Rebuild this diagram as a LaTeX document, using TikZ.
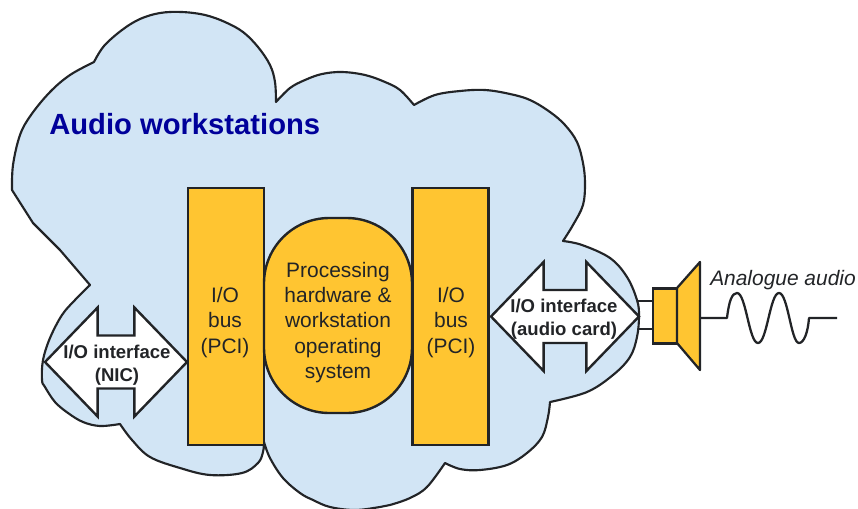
\documentclass[tikz,border=0pt]{standalone}
\usepackage{fontspec}
\setmainfont{Liberation Sans}
\usetikzlibrary{shapes.arrows}
\definecolor{cloudblue}{HTML}{D2E5F5}
\definecolor{boxorange}{HTML}{FFC531}
\definecolor{titleblue}{HTML}{00009A}
\definecolor{inkgray}{HTML}{222427}

\begin{document}
\begin{tikzpicture}[x=0.75pt, y=-0.75pt]
    \tikzstyle{cloud}=[draw=inkgray, fill=cloudblue, line width=1.6pt, line join=round]
    \tikzstyle{wire}=[draw=inkgray, line width=1.7pt, line join=round]
    \tikzstyle{busbox}=[rectangle, draw=inkgray, fill=boxorange, line width=1.8pt, minimum width=57pt, minimum height=192.75pt, inner sep=0pt]
    \tikzstyle{corebox}=[rectangle, draw=inkgray, fill=boxorange, line width=1.8pt, rounded corners=49pt, minimum width=111pt, minimum height=146.25pt, inner sep=0pt]
    \tikzstyle{ioarrow}=[double arrow, draw=inkgray, fill=white, line width=1.8pt, line join=miter, double arrow tip angle=92, double arrow head extend=21pt, minimum width=81pt, inner xsep=0pt, inner ysep=19pt]
    \tikzstyle{boxtext}=[align=center, text=inkgray, font=\fontsize{15.7pt}{19pt}\selectfont]
    \tikzstyle{iotext}=[align=center, text=inkgray, font=\fontsize{13.9pt}{17.3pt}\selectfont\bfseries]

    \useasboundingbox (0,0) rectangle (858,508);

    \draw[cloud] plot[smooth, tension=0.6] coordinates {(12,190) (13,165) (20,135) (31,115) (50,92) (70,75) (94,62)}
        -- plot[smooth, tension=0.6] coordinates {(94,62) (104,46) (122,30) (140,19) (160,13) (182,12) (205,15) (225,22) (243,32) (258,47) (270,65) (275,82) (276,102)}
        -- plot[smooth, tension=0.6] coordinates {(276,102) (290,88) (305,80) (322,74) (342,72) (365,75) (385,82) (400,90) (414,105)}
        -- plot[smooth, tension=0.6] coordinates {(414,105) (435,95) (460,91) (485,90) (510,94) (530,100) (550,112) (565,125) (577,142) (583,163) (585,183) (583,205) (573,225) (563,241)}
        -- plot[smooth, tension=0.6] coordinates {(563,241) (582,245) (610,258) (627,277) (637,300) (639,316) (637,337) (630,357) (613,375) (587,392) (550,402)}
        -- plot[smooth, tension=0.6] coordinates {(550,402) (548,417) (542,437) (527,453) (507,465) (480,470) (460,469) (445,463)}
        -- plot[smooth, tension=0.6] coordinates {(445,463) (427,487) (410,498) (390,505) (380,507) (355,510) (330,507) (313,500) (300,493) (283,478) (270,458) (264,442)}
        -- plot[smooth, tension=0.6] coordinates {(264,442) (263,452) (258,463) (242,473) (210,475) (180,468) (150,457) (132,440) (120,424)}
        -- plot[smooth, tension=0.6] coordinates {(120,424) (100,426) (83,422) (68,413) (55,402) (45,387) (42,380) (43,360) (50,338) (62,315) (75,300) (90,285)}
        -- (60,250) -- (33,223) -- cycle;

    \node[anchor=base west, inner sep=0pt, text=titleblue, font=\fontsize{21.9pt}{26pt}\selectfont\bfseries] (title) at (49,134) {Audio workstations};

    \node[busbox] (busl) at (226,316.5) {};
    \node[busbox] (busr) at (450.5,316.5) {};
    \node[corebox] (core) at (338,315.5) {};
    \node[boxtext] (busltext) at (225,322.5) {I/O\\bus\\(PCI)};
    \node[boxtext] (busrtext) at (451,322.5) {I/O\\bus\\(PCI)};
    \node[boxtext] (coretext) at (338,322.5) {Processing\\hardware \&\\workstation\\operating\\system};

    \node[ioarrow, minimum height=106.5pt] (nic) at (116,362) {};
    \node[ioarrow, minimum height=111pt] (card) at (565,316.5) {};
    \node[iotext] (nictext) at (117,365) {I/O interface\\(NIC)};
    \node[iotext] (cardtext) at (564,319) {I/O interface\\(audio card)};

    \node[rectangle, draw=inkgray, fill=boxorange, line width=1.9pt, minimum width=18pt, minimum height=41.25pt, inner sep=0pt] (spkbox) at (665,316) {};
    \coordinate (wirea) at (638,301);
    \coordinate (wireb) at (638,329);
    \draw[wire] (wirea) -- (wirea -| spkbox.west);
    \draw[wire] (wireb) -- (wireb -| spkbox.west);
    \draw[wire, fill=boxorange] (677,288) -- (700,262) -- (700,370) -- (677,343) -- cycle;

    \coordinate (conemid) at (700,318);
    \coordinate (waveend) at (837,318);
    \draw[wire] (conemid) -- (727,318) .. controls (729,301) and (732,293) .. (737,293)
        .. controls (746,293) and (749,343) .. (758,343)
        .. controls (767,343) and (770,293) .. (779,293)
        .. controls (788,293) and (791,343) .. (799,343)
        .. controls (804,343) and (808,332) .. (809,318) -- (waveend);

    \node[text=inkgray, font=\fontsize{15.7pt}{19pt}\selectfont\itshape, anchor=base] (audiotext) at (783,285) {Analogue audio};
\end{tikzpicture}
\end{document}
